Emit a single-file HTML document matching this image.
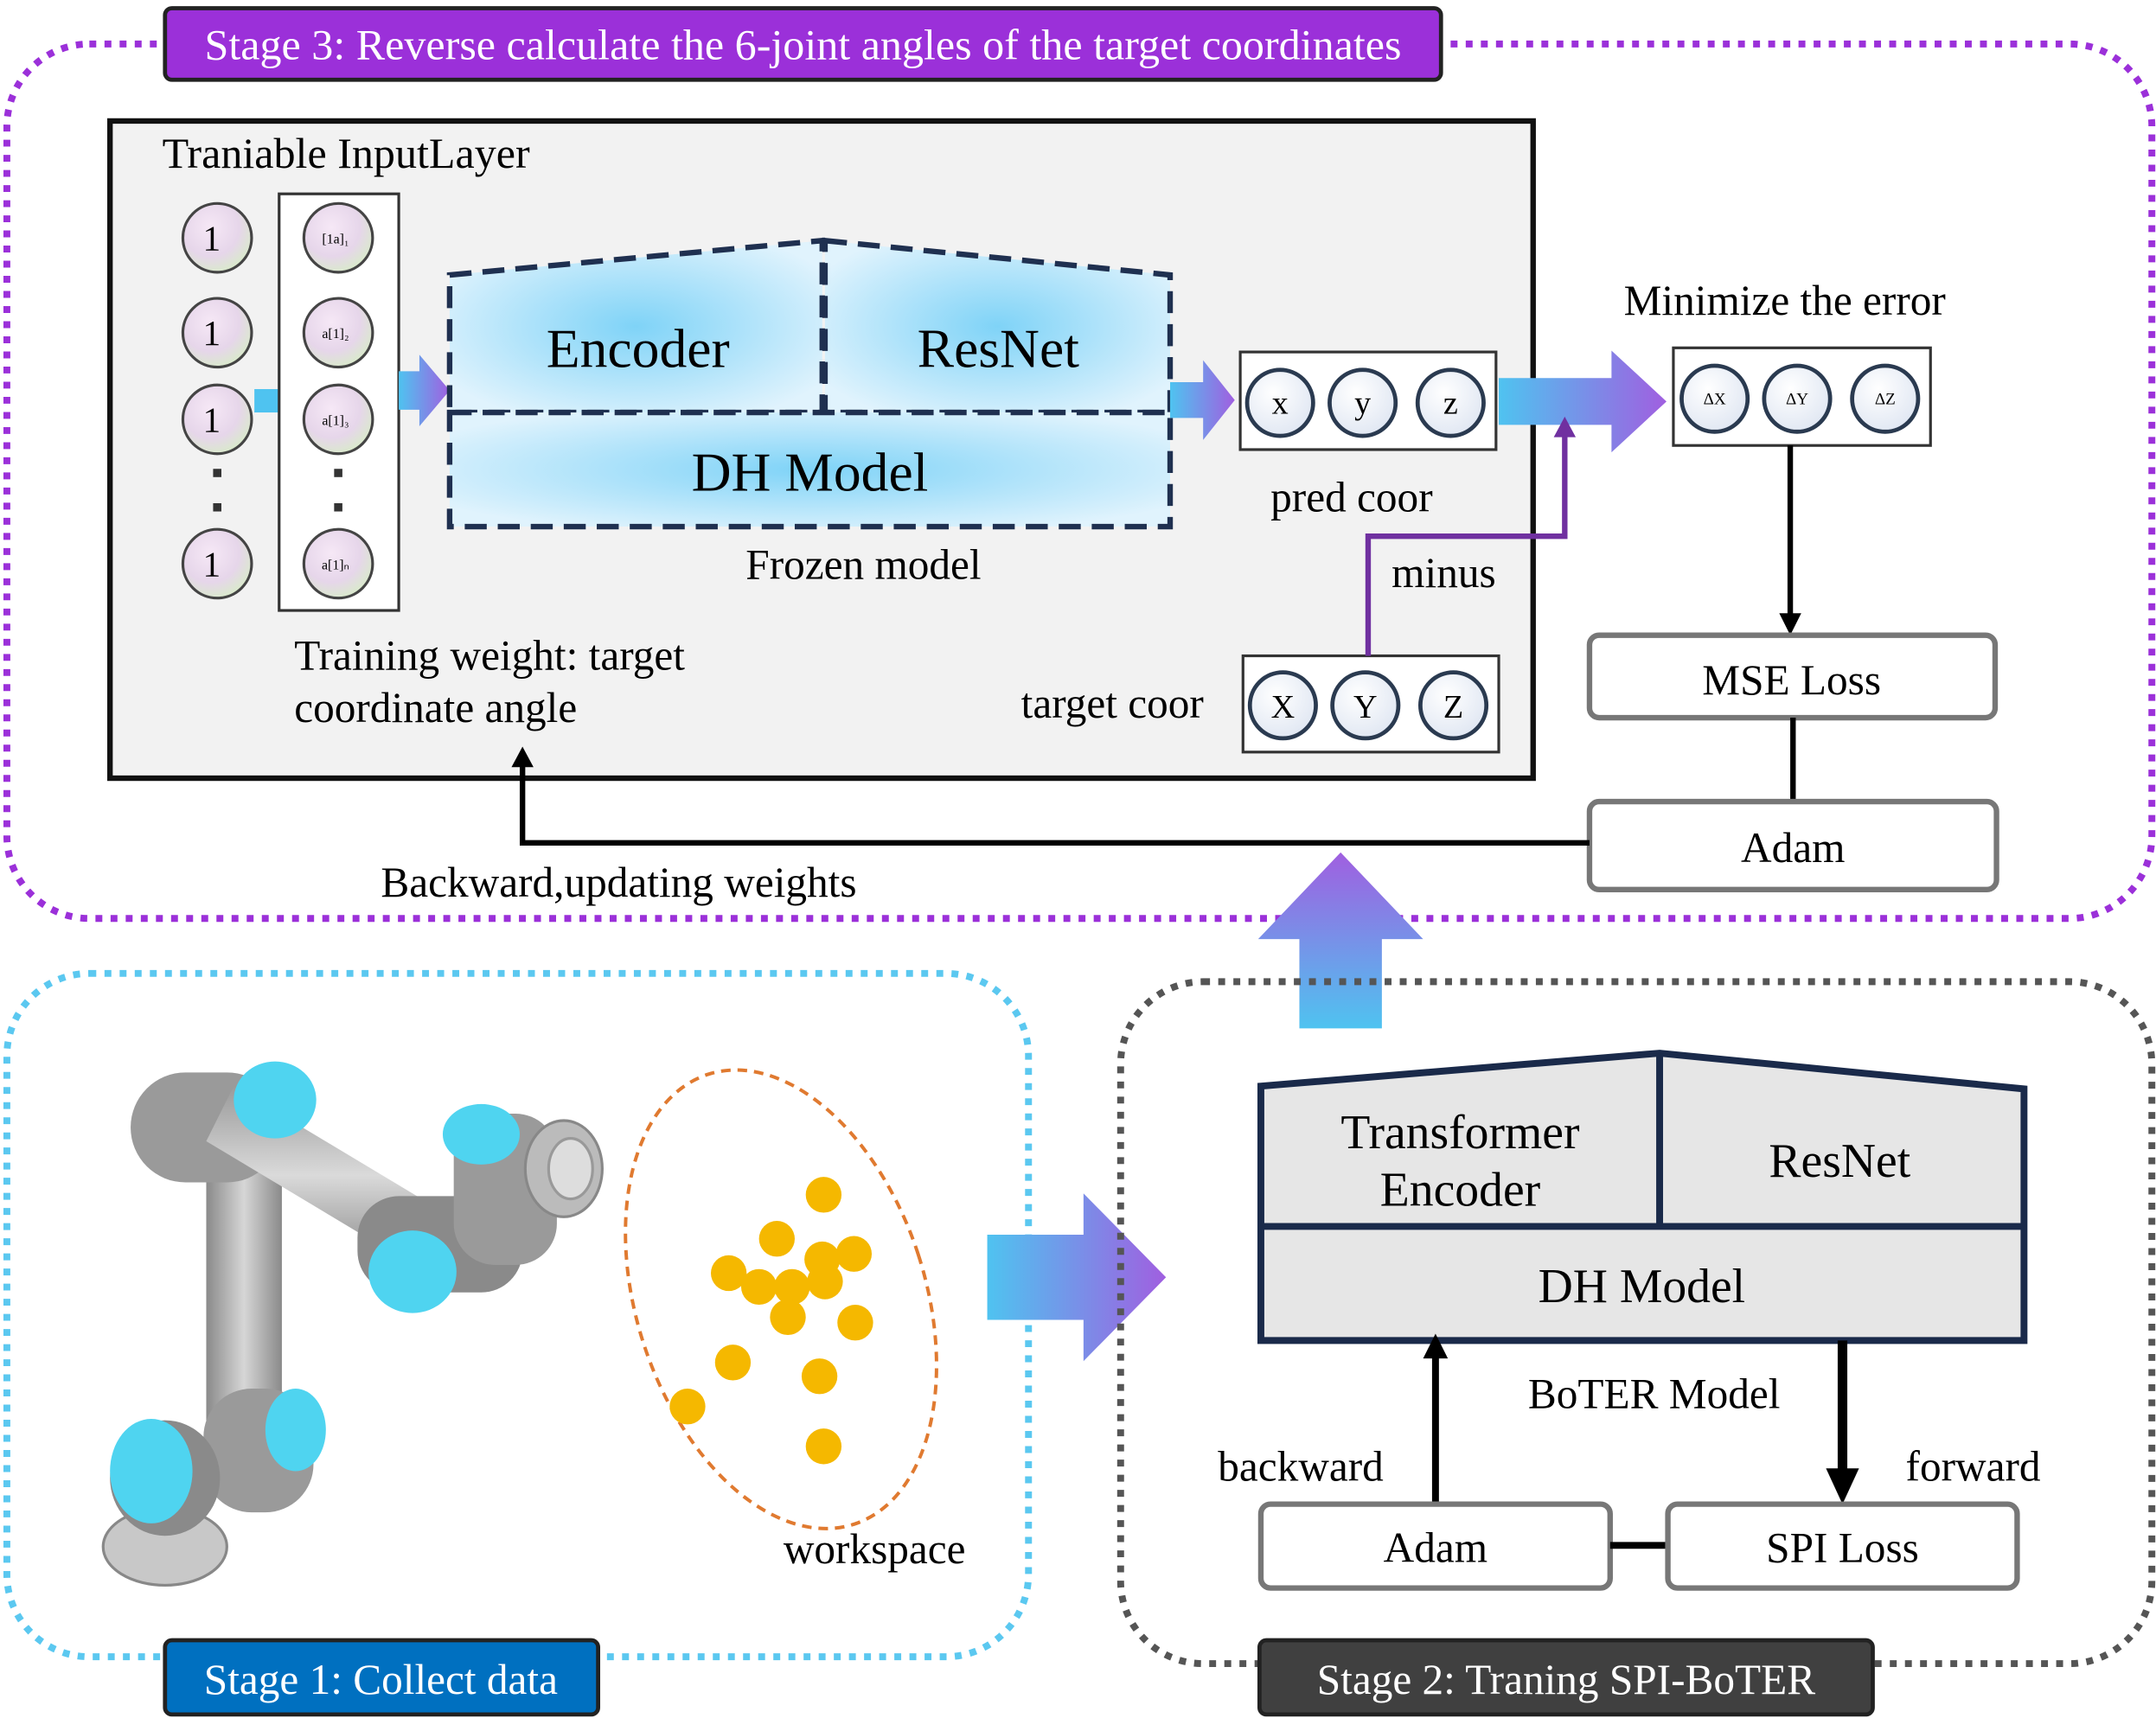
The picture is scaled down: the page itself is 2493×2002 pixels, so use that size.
<!DOCTYPE html>
<html><head><meta charset="utf-8"><style>
html,body{margin:0;padding:0;background:#fff;}
svg{display:block;}
text{font-family:"Liberation Serif",serif;fill:#000;}
</style></head><body>
<svg width="2493" height="2002" viewBox="0 0 1568 1259" preserveAspectRatio="none" xmlns="http://www.w3.org/2000/svg">
<defs>
<radialGradient id="nodeg" cx="40%" cy="35%" r="70%"><stop offset="0" stop-color="#f6e8f6"/><stop offset="0.6" stop-color="#e6d6ea"/><stop offset="1" stop-color="#d8ecc8"/></radialGradient>
<radialGradient id="bluen" cx="40%" cy="35%" r="70%"><stop offset="0" stop-color="#ffffff"/><stop offset="1" stop-color="#dfe6f2"/></radialGradient>
<radialGradient id="encg" cx="50%" cy="50%" r="60%"><stop offset="0" stop-color="#7fd3f7"/><stop offset="1" stop-color="#e0f3fd"/></radialGradient>
<linearGradient id="hgr" x1="0" y1="0" x2="1" y2="0"><stop offset="0" stop-color="#4fc3f0"/><stop offset="1" stop-color="#a05fe0"/></linearGradient>
<linearGradient id="vgr" x1="0" y1="1" x2="0" y2="0"><stop offset="0" stop-color="#4fc3f0"/><stop offset="1" stop-color="#a05fe0"/></linearGradient>
<linearGradient id="armg" x1="0" y1="0" x2="1" y2="0"><stop offset="0" stop-color="#8a8a8a"/><stop offset="0.5" stop-color="#d6d6d6"/><stop offset="1" stop-color="#8a8a8a"/></linearGradient>
<linearGradient id="armh" x1="0" y1="0" x2="0" y2="1"><stop offset="0" stop-color="#9a9a9a"/><stop offset="0.5" stop-color="#dadada"/><stop offset="1" stop-color="#8a8a8a"/></linearGradient>
</defs>

<rect x="5" y="32" width="1560" height="636" rx="60" fill="none" stroke="#9b30d9" stroke-width="5" stroke-dasharray="5,6"/>
<rect x="120" y="6" width="928" height="52" rx="5" fill="#9b30d9" stroke="#222" stroke-width="3"/>
<text x="584" y="43" font-size="31.5" text-anchor="middle" style="fill:#fff">Stage 3: Reverse calculate the 6-joint angles of the target coordinates</text>

<rect x="80" y="88" width="1035" height="478" fill="#f2f2f2" stroke="#111" stroke-width="4"/>
<text x="118" y="122" font-size="31.5">Traniable InputLayer</text>

<g stroke="#444" stroke-width="2" fill="url(#nodeg)">
<circle cx="158" cy="173" r="25"/><circle cx="158" cy="242" r="25"/><circle cx="158" cy="305" r="25"/><circle cx="158" cy="410" r="25"/>
</g>
<g font-size="26" text-anchor="middle"><text x="154" y="182">1</text><text x="154" y="251">1</text><text x="154" y="314">1</text><text x="154" y="419">1</text></g>
<rect x="155" y="341" width="6" height="6" fill="#333"/><rect x="155" y="366" width="6" height="6" fill="#333"/>
<rect x="185" y="283" width="18" height="17" fill="#4fc3f0"/>
<rect x="203" y="141" width="87" height="303" fill="#fff" stroke="#333" stroke-width="2"/>
<g stroke="#444" stroke-width="2" fill="url(#nodeg)">
<circle cx="246" cy="173" r="25"/><circle cx="246" cy="242" r="25"/><circle cx="246" cy="305" r="25"/><circle cx="246" cy="410" r="25"/>
</g>
<g font-size="10" text-anchor="middle"><text x="244" y="177">[1a]₁</text><text x="244" y="246">a[1]₂</text><text x="244" y="309">a[1]₃</text><text x="244" y="414">a[1]ₙ</text></g>
<rect x="243" y="341" width="6" height="6" fill="#333"/><rect x="243" y="366" width="6" height="6" fill="#333"/>
<polygon points="290,270 305,270 305,258 327,284 305,310 305,298 290,298" fill="url(#hgr)"/>

<polygon points="327,200 598,175 598,300 327,300" fill="url(#encg)" stroke="#1f3050" stroke-width="4" stroke-dasharray="16,8"/>
<polygon points="600,175 851,200 851,300 600,300" fill="url(#encg)" stroke="#1f3050" stroke-width="4" stroke-dasharray="16,8"/>
<rect x="327" y="300" width="524" height="83" fill="url(#encg)" stroke="#1f3050" stroke-width="4" stroke-dasharray="16,8"/>
<text x="464" y="267" font-size="40" text-anchor="middle">Encoder</text>
<text x="726" y="267" font-size="40" text-anchor="middle">ResNet</text>
<text x="589" y="357" font-size="40" text-anchor="middle">DH Model</text>
<text x="628" y="421" font-size="31" text-anchor="middle">Frozen model</text>

<polygon points="851,278 875,278 875,262 898,291 875,320 875,304 851,304" fill="url(#hgr)"/>
<rect x="902" y="256" width="186" height="71" fill="#fff" stroke="#333" stroke-width="2"/>
<g stroke="#2a3a50" stroke-width="3" fill="url(#bluen)"><circle cx="931" cy="293" r="24"/><circle cx="991" cy="293" r="24"/><circle cx="1055" cy="293" r="24"/></g>
<g font-size="24" text-anchor="middle" style="fill:#333"><text x="931" y="301">x</text><text x="991" y="301">y</text><text x="1055" y="301">z</text></g>
<text x="983" y="372" font-size="31" text-anchor="middle">pred coor</text>

<polygon points="1090,275 1172,275 1172,255 1212,292 1172,329 1172,309 1090,309" fill="url(#hgr)"/>
<text x="1298" y="229" font-size="31" text-anchor="middle">Minimize the error</text>
<rect x="1217" y="253" width="187" height="71" fill="#fff" stroke="#333" stroke-width="2"/>
<g stroke="#2a3a50" stroke-width="3" fill="url(#bluen)"><circle cx="1247" cy="290" r="24"/><circle cx="1307" cy="290" r="24"/><circle cx="1371" cy="290" r="24"/></g>
<g font-size="12" text-anchor="middle" style="fill:#333"><text x="1247" y="294">ΔX</text><text x="1307" y="294">ΔY</text><text x="1371" y="294">ΔZ</text></g>

<line x1="1302" y1="324" x2="1302" y2="448" stroke="#000" stroke-width="4"/>
<polygon points="1294,446 1310,446 1302,462" fill="#000"/>
<rect x="1156" y="462" width="295" height="60" rx="7" fill="#fff" stroke="#777" stroke-width="4"/>
<text x="1303" y="505" font-size="31" text-anchor="middle">MSE Loss</text>
<line x1="1304" y1="522" x2="1304" y2="583" stroke="#000" stroke-width="4"/>
<rect x="1156" y="583" width="296" height="64" rx="7" fill="#fff" stroke="#777" stroke-width="4"/>
<text x="1304" y="627" font-size="31" text-anchor="middle">Adam</text>

<polyline points="1156,613 380,613 380,556" fill="none" stroke="#000" stroke-width="4"/>
<polygon points="372,558 388,558 380,543" fill="#000"/>
<text x="450" y="652" font-size="31" text-anchor="middle">Backward,updating weights</text>

<text x="214" y="487" font-size="31">Training weight: target</text>
<text x="214" y="525" font-size="31">coordinate angle</text>
<text x="809" y="522" font-size="31" text-anchor="middle">target coor</text>
<rect x="904" y="477" width="186" height="70" fill="#fff" stroke="#333" stroke-width="2"/>
<g stroke="#2a3a50" stroke-width="3" fill="url(#bluen)"><circle cx="933" cy="513" r="24"/><circle cx="993" cy="513" r="24"/><circle cx="1057" cy="513" r="24"/></g>
<g font-size="24" text-anchor="middle" style="fill:#333"><text x="933" y="522">X</text><text x="993" y="522">Y</text><text x="1057" y="522">Z</text></g>
<polyline points="995,477 995,390 1138,390 1138,315" fill="none" stroke="#7030a0" stroke-width="4"/>
<polygon points="1130,318 1146,318 1138,303" fill="#7030a0"/>
<text x="1050" y="427" font-size="31" text-anchor="middle">minus</text>

<polygon points="945,748 1005,748 1005,683 1035,683 975,620 915,683 945,683" fill="url(#vgr)"/>

<rect x="5" y="708" width="743" height="497" rx="60" fill="none" stroke="#5bc8f0" stroke-width="5" stroke-dasharray="5,6"/>
<rect x="120" y="1193" width="315" height="54" rx="5" fill="#0070c0" stroke="#222" stroke-width="3"/>
<text x="277" y="1232" font-size="31" text-anchor="middle" style="fill:#fff">Stage 1: Collect data</text>

<g>
<ellipse cx="120" cy="1125" rx="45" ry="28" fill="#c8c8c8" stroke="#888" stroke-width="2"/>
<rect x="150" y="850" width="55" height="200" fill="url(#armg)"/>
<rect x="148" y="1010" width="80" height="90" rx="35" fill="#9a9a9a"/>
<ellipse cx="120" cy="1075" rx="40" ry="42" fill="#8a8a8a"/>
<ellipse cx="110" cy="1070" rx="30" ry="38" fill="#4fd4f0"/>
<ellipse cx="215" cy="1040" rx="22" ry="30" fill="#4fd4f0"/>
<rect x="95" y="780" width="110" height="80" rx="40" fill="#9a9a9a"/>
<polygon points="170,790 320,880 300,920 150,830" fill="url(#armh)"/>
<ellipse cx="200" cy="800" rx="30" ry="28" fill="#4fd4f0"/>
<rect x="260" y="870" width="120" height="70" rx="30" fill="#8a8a8a"/>
<ellipse cx="300" cy="925" rx="32" ry="30" fill="#4fd4f0"/>
<rect x="330" y="810" width="75" height="110" rx="30" fill="#9a9a9a"/>
<ellipse cx="350" cy="825" rx="28" ry="22" fill="#4fd4f0"/>
<ellipse cx="410" cy="850" rx="28" ry="35" fill="#bbb" stroke="#888" stroke-width="2"/>
<ellipse cx="415" cy="850" rx="16" ry="22" fill="#ddd" stroke="#999" stroke-width="2"/>
</g>

<ellipse cx="568" cy="945" rx="105" ry="172" transform="rotate(-18 568 945)" fill="none" stroke="#e07a30" stroke-width="2.5" stroke-dasharray="7,5"/>
<g fill="#f5b800">
<circle cx="599" cy="869" r="13"/><circle cx="565" cy="901" r="13"/><circle cx="598" cy="916" r="13"/><circle cx="621" cy="912" r="13"/>
<circle cx="530" cy="926" r="13"/><circle cx="552" cy="936" r="13"/><circle cx="576" cy="936" r="13"/><circle cx="600" cy="932" r="13"/>
<circle cx="573" cy="958" r="13"/><circle cx="622" cy="962" r="13"/><circle cx="533" cy="991" r="13"/><circle cx="596" cy="1001" r="13"/>
<circle cx="500" cy="1023" r="13"/><circle cx="599" cy="1052" r="13"/>
</g>
<text x="636" y="1137" font-size="31" text-anchor="middle">workspace</text>

<polygon points="718,898 788,898 788,868 848,929 788,990 788,960 718,960" fill="url(#hgr)"/>

<rect x="815" y="714" width="750" height="496" rx="60" fill="none" stroke="#555" stroke-width="5" stroke-dasharray="5,6"/>
<rect x="916" y="1193" width="446" height="54" rx="5" fill="#404040" stroke="#222" stroke-width="3"/>
<text x="1139" y="1232" font-size="31" text-anchor="middle" style="fill:#fff">Stage 2: Traning SPI-BoTER</text>

<polygon points="917,790 1207,766 1472,792 1472,975 917,975" fill="#e6e6e6" stroke="#1a2a4a" stroke-width="5"/>
<line x1="1207" y1="766" x2="1207" y2="892" stroke="#1a2a4a" stroke-width="5"/>
<line x1="917" y1="892" x2="1472" y2="892" stroke="#1a2a4a" stroke-width="5"/>
<text x="1062" y="835" font-size="35" text-anchor="middle">Transformer</text>
<text x="1062" y="877" font-size="35" text-anchor="middle">Encoder</text>
<text x="1338" y="856" font-size="35" text-anchor="middle">ResNet</text>
<text x="1194" y="947" font-size="35" text-anchor="middle">DH Model</text>
<text x="1203" y="1024" font-size="31" text-anchor="middle">BoTER Model</text>

<line x1="1044" y1="1094" x2="1044" y2="986" stroke="#000" stroke-width="5"/>
<polygon points="1035,988 1053,988 1044,970" fill="#000"/>
<line x1="1340" y1="975" x2="1340" y2="1072" stroke="#000" stroke-width="7"/>
<polygon points="1328,1068 1352,1068 1340,1094" fill="#000"/>
<text x="946" y="1077" font-size="31" text-anchor="middle">backward</text>
<text x="1435" y="1077" font-size="31" text-anchor="middle">forward</text>
<rect x="917" y="1094" width="254" height="61" rx="7" fill="#fff" stroke="#777" stroke-width="4"/>
<text x="1044" y="1136" font-size="31" text-anchor="middle">Adam</text>
<line x1="1171" y1="1124" x2="1213" y2="1124" stroke="#000" stroke-width="5"/>
<rect x="1213" y="1094" width="254" height="61" rx="7" fill="#fff" stroke="#777" stroke-width="4"/>
<text x="1340" y="1136" font-size="31" text-anchor="middle">SPI Loss</text>
</svg>
</body></html>
